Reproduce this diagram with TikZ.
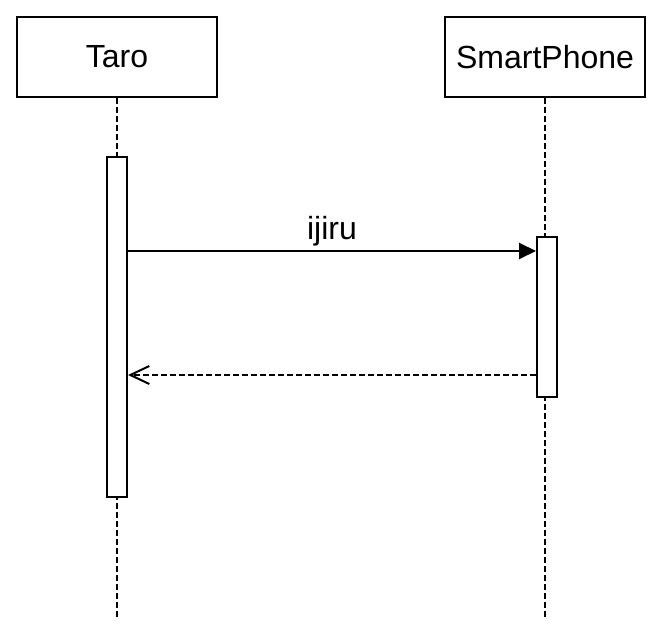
\documentclass[tikz,border=0pt]{standalone}
\usepackage{fontspec}
\setmainfont{Liberation Sans}
\usepackage{tikz}
\usetikzlibrary{arrows.meta,positioning}
\tikzset{
  headbox/.style={rectangle, draw=black, fill=white, line width=2pt, align=center, minimum width=200pt, minimum height=80pt, font=\fontsize{32}{38}\selectfont},
  actbar/.style={rectangle, draw=black, fill=white, line width=2pt, minimum width=20pt, inner sep=0pt},
  lifeline/.style={line width=2pt, dash pattern=on 6pt off 3pt},
  callarrow/.style={-{Triangle[length=17pt, width=16pt]}, line width=2pt},
  returnarrow/.style={-{Straight Barb[length=19pt, width=18pt, line width=2pt]}, line width=2pt, dash pattern=on 6pt off 3pt}
}

\begin{document}
\begin{tikzpicture}[x=1pt, y=-1pt]
\useasboundingbox (0,0) rectangle (662,634);
\node[headbox] (taro) at (117,57) {Taro};
\node[headbox] (phone) at (545,57) {SmartPhone};
\coordinate (taroend) at (117,617);
\coordinate (phoneend) at (545,617);
\draw[lifeline] (taro) -- (taroend);
\draw[lifeline] (phone) -- (phoneend);
\node[actbar, minimum height=340pt] (taroact) at (117,327) {};
\node[actbar, minimum height=160pt] (phoneact) at (547,317) {};
\coordinate (cally) at (332,251);
\coordinate (rety) at (332,375);
\draw[callarrow] (taroact.east |- cally) -- (phoneact.west |- cally)
  node[midway, above=4pt, inner sep=0pt, font=\fontsize{32}{38}\selectfont] (calllbl) {ijiru};
\draw[returnarrow] (phoneact.west |- rety) -- (taroact.east |- rety);
\end{tikzpicture}
\end{document}
